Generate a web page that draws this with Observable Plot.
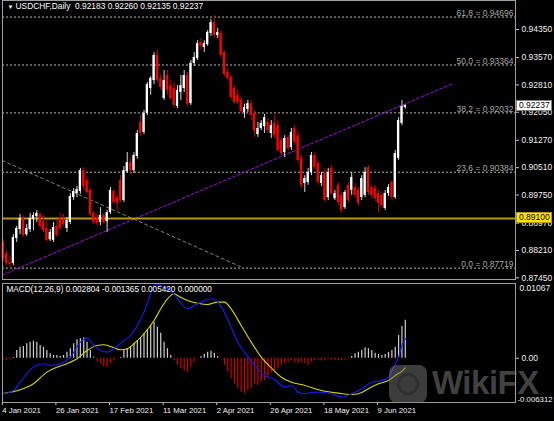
<!DOCTYPE html>
<html><head><meta charset="utf-8">
<script src="https://cdn.jsdelivr.net/npm/d3@7"></script>
<script src="https://cdn.jsdelivr.net/npm/@observablehq/plot@0.6"></script>
<style>
html,body{margin:0;padding:0;background:#000;}
#chart{position:relative;width:554px;height:421px;background:#000;overflow:hidden;font-family:'Liberation Sans',Arial,sans-serif;}
#chart svg{position:absolute;left:0;}
.box{position:absolute;font-size:8.5px;line-height:11px;height:11px;padding:0 2px;box-sizing:border-box;}
</style></head>
<body><div id="chart"></div>
<script>
// ---- data (daily bars, index 0 = 4 Jan 2021) ----
const opens = [0.8843,0.8812,0.8787,0.8785,0.8854,0.8879,0.8910,0.8865,0.8879,0.8907,
0.8915,0.8921,0.8899,0.8882,0.8851,0.8849,0.8888,0.8910,0.8907,0.8882,
0.8899,0.8968,0.8979,0.8985,0.9043,0.9015,0.8988,0.8924,0.8913,0.8899,
0.8918,0.8901,0.8926,0.8985,0.8968,0.9015,0.8960,0.9040,0.9065,0.9043,
0.9082,0.9177,0.9149,0.9202,0.9271,0.9293,0.9363,0.9299,0.9243,0.9307,
0.9279,0.9271,0.9221,0.9260,0.9271,0.9307,0.9229,0.9341,0.9354,0.9399,
0.9385,0.9393,0.9424,0.9454,0.9418,0.9424,0.9371,0.9316,0.9302,0.9271,
0.9252,0.9238,0.9204,0.9213,0.9229,0.9202,0.9143,0.9160,0.9165,0.9177,
0.9146,0.9174,0.9168,0.9127,0.9093,0.9135,0.9107,0.9160,0.9140,0.9077,
0.9007,0.9010,0.9038,0.9085,0.9063,0.9007,0.9035,0.8968,0.9049,0.8965,
0.9002,0.8974,0.8940,0.9002,0.8988,0.8996,0.8988,0.8968,0.8974,0.9051,
0.8996,0.8993,0.8979,0.8974,0.8938,0.8979,0.9010,0.8968,0.9077,0.9174,
0.92183];
const highs = [0.8851,0.8821,0.8804,0.8865,0.8888,0.8921,0.8918,0.8893,0.8924,0.8926,
0.8932,0.8926,0.8918,0.8904,0.8879,0.8899,0.8904,0.8924,0.8921,0.8913,
0.8979,0.8993,0.8999,0.9049,0.9051,0.9026,0.8993,0.8929,0.8921,0.8940,
0.8924,0.8932,0.8996,0.8990,0.8974,0.9029,0.9054,0.9093,0.9077,0.9093,
0.9154,0.9196,0.9210,0.9288,0.9304,0.9371,0.9377,0.9310,0.9321,0.9321,
0.9293,0.9288,0.9279,0.9307,0.9321,0.9316,0.9349,0.9371,0.9404,0.9410,
0.9404,0.9432,0.9463,0.9474,0.9438,0.9432,0.9377,0.9327,0.9307,0.9277,
0.9266,0.9246,0.9227,0.9238,0.9238,0.9210,0.9177,0.9182,0.9199,0.9188,
0.9182,0.9196,0.9182,0.9135,0.9140,0.9140,0.9160,0.9168,0.9154,0.9085,
0.9029,0.9049,0.9093,0.9093,0.9071,0.9038,0.9049,0.9049,0.9057,0.8988,
0.9010,0.8982,0.8988,0.9010,0.9038,0.9007,0.8996,0.9029,0.9051,0.9057,
0.9002,0.9002,0.8988,0.8982,0.8988,0.9004,0.9015,0.9099,0.9190,0.9238,
0.92260];
const lows = [0.8790,0.8779,0.8772,0.8779,0.8843,0.8865,0.8857,0.8860,0.8871,0.8876,
0.8899,0.8879,0.8871,0.8843,0.8846,0.8843,0.8857,0.8876,0.8888,0.8871,
0.8893,0.8960,0.8968,0.8977,0.8988,0.8977,0.8915,0.8893,0.8888,0.8890,
0.8893,0.8871,0.8921,0.8949,0.8932,0.8952,0.8954,0.9035,0.9032,0.9035,
0.9074,0.9138,0.9143,0.9196,0.9252,0.9282,0.9288,0.9266,0.9238,0.9252,
0.9238,0.9215,0.9215,0.9238,0.9260,0.9221,0.9224,0.9332,0.9349,0.9377,
0.9371,0.9388,0.9416,0.9410,0.9410,0.9357,0.9302,0.9293,0.9240,0.9227,
0.9227,0.9202,0.9188,0.9204,0.9182,0.9135,0.9135,0.9154,0.9146,0.9146,
0.9132,0.9132,0.9093,0.9085,0.9079,0.9099,0.9099,0.9113,0.9065,0.8993,
0.8982,0.9002,0.9029,0.9043,0.9002,0.8999,0.8954,0.8960,0.8974,0.8960,
0.8946,0.8924,0.8935,0.8952,0.8974,0.8965,0.8943,0.8960,0.8968,0.8974,
0.8965,0.8957,0.8926,0.8938,0.8932,0.8971,0.8960,0.8963,0.9071,0.9168,
0.92135];
const closes = [0.8799,0.8785,0.8782,0.8857,0.8882,0.8910,0.8863,0.8882,0.8910,0.8918,
0.8924,0.8888,0.8876,0.8849,0.8871,0.8885,0.8863,0.8882,0.8893,0.8904,
0.8971,0.8985,0.8990,0.9043,0.8999,0.8982,0.8921,0.8899,0.8896,0.8918,
0.8899,0.8926,0.8988,0.8954,0.8952,0.8960,0.9043,0.9065,0.9043,0.9085,
0.9146,0.9146,0.9202,0.9282,0.9299,0.9363,0.9293,0.9274,0.9293,0.9266,
0.9243,0.9224,0.9266,0.9279,0.9307,0.9227,0.9341,0.9357,0.9396,0.9388,
0.9396,0.9427,0.9454,0.9418,0.9427,0.9363,0.9310,0.9299,0.9246,0.9232,
0.9232,0.9207,0.9218,0.9229,0.9196,0.9154,0.9160,0.9174,0.9190,0.9154,
0.9168,0.9140,0.9099,0.9090,0.9132,0.9104,0.9149,0.9121,0.9071,0.9002,
0.9021,0.9038,0.9085,0.9051,0.9010,0.9029,0.8960,0.9038,0.8979,0.8979,
0.8954,0.8932,0.8982,0.8960,0.9024,0.8974,0.8952,0.9021,0.9038,0.8982,
0.8974,0.8965,0.8952,0.8946,0.8979,0.8996,0.8968,0.9090,0.9182,0.9221,
0.92237];

// MACD histogram (one per bar)
const histVals = [-0.00017,-0.00031,-0.00017,0.00011,0.00111,0.00158,0.00168,0.00207,0.00230,0.00244,
0.00230,0.00183,0.00158,0.00111,0.00064,0.00040,0.00040,0.00026,0.00040,0.00087,
0.00136,0.00207,0.00264,0.00278,0.00293,0.00230,0.00111,0.00016,-0.00056,-0.00078,
-0.00127,-0.00136,-0.00078,-0.00031,-0.00010,0.00011,0.00111,0.00136,0.00168,0.00207,
0.00254,0.00293,0.00350,0.00407,0.00468,0.00515,0.00444,0.00358,0.00230,0.00136,
0.00040,-0.00031,-0.00103,-0.00150,-0.00174,-0.00198,-0.00127,-0.00056,-0.00010,0.00026,
0.00054,0.00087,0.00101,0.00073,0.00026,-0.00010,-0.00103,-0.00198,-0.00293,-0.00364,
-0.00435,-0.00484,-0.00507,-0.00459,-0.00435,-0.00364,-0.00388,-0.00341,-0.00317,-0.00270,
-0.00203,-0.00174,-0.00146,-0.00103,-0.00074,-0.00060,-0.00031,-0.00067,-0.00078,-0.00056,
-0.00078,-0.00103,-0.00056,-0.00031,-0.00024,-0.00039,-0.00031,-0.00017,-0.00024,-0.00031,
-0.00031,-0.00031,-0.00024,-0.00010,0.00026,0.00064,0.00087,0.00111,0.00150,0.00136,
0.00111,0.00073,0.00054,0.00040,0.00054,0.00083,0.00111,0.00158,0.00325,0.00454,
0.00542];
// MACD main line (blue), read at these bars
const macdIdx = [0,3,5,9,12,14,17,20,23,25,27,29,31,33,36,38,40,42,44,45,46,48,50,52,55,57,59,62,64,66,68,70,72,75,78,81,84,86,88,90,92,95,98,101,104,107,110,113,115,116,118,119,120];
const macdVals = [-0.00507,-0.00459,-0.00341,-0.00127,-0.00078,-0.00103,-0.00078,0.00016,0.00230,0.00287,
0.00183,0.00111,0.00087,0.00136,0.00254,0.00325,0.00468,0.00658,0.00920,0.01039,
0.01053,0.01010,0.00968,0.00849,0.00706,0.00753,0.00801,0.00849,0.00801,0.00658,
0.00444,0.00230,0.00087,-0.00103,-0.00245,-0.00303,-0.00412,-0.00388,-0.00484,-0.00507,
-0.00484,-0.00484,-0.00507,-0.00555,-0.00507,-0.00435,-0.00341,-0.00317,-0.00270,-0.00174,
0.00016,0.00183,0.002804];
// Signal line (yellow)
const sigIdx = [0,5,9,13,16,19,22,25,28,30,32,35,37,39,42,45,47,49,51,52,55,58,61,64,66,68,71,74,77,80,83,86,90,95,100,104,106,109,112,115,117,119,120];
const sigVals = [-0.00502,-0.00450,-0.00364,-0.00198,-0.00127,-0.00078,-0.00007,0.00111,0.00183,0.00193,
0.00168,0.00121,0.00136,0.00207,0.00350,0.00539,0.00706,0.00849,0.00920,0.00896,
0.00825,0.00786,0.00768,0.00801,0.00801,0.00706,0.00468,0.00230,0.00016,-0.00138,
-0.00270,-0.00341,-0.00388,-0.00459,-0.00498,-0.00517,-0.00507,-0.00435,-0.00364,-0.00317,
-0.00245,-0.00184,-0.001365];

const fibLabels = ["61.8","50.0","38.2","23.6","0.0"];
const fibValues = [0.94696,0.93364,0.92032,0.90384,0.87719];
const supportLevel = 0.89100;
const purpleIdx = [-0.24, 134];
const purpleVals = [0.8753, 0.9284];
const grayIdx = [-0.33, 70.8];
const grayVals = [0.9071, 0.8776];

const priceTicks = [0.94350,0.93570,0.92810,0.92050,0.91270,0.90510,0.89750,0.88970,0.88210,0.87450];
const macdTop = 0.01067, macdBottom = -0.006312;
const dateTickIdx = [0,16,32,48,64,80,96,112];
const dateLabels = ["4 Jan 2021","26 Jan 2021","17 Feb 2021","11 Mar 2021","2 Apr 2021","26 Apr 2021","18 May 2021","9 Jun 2021"];

// ---- build ----
const FONT = "'Liberation Sans', Arial, sans-serif";
const xDomain = [-0.24, 152.9];
const bars = opens.map((o,i)=>({i, o, h: highs[i], l: lows[i], c: closes[i], up: closes[i] >= o}));
const fib = fibLabels.map((label,k)=>({label, v: fibValues[k]}));
const purple = purpleIdx.map((x,k)=>({x, y: purpleVals[k]}));
const gray = grayIdx.map((x,k)=>({x, y: grayVals[k]}));
const hist = histVals.map((v,i)=>({i, v}));
const macdPts = macdIdx.map((x,k)=>({x, y: macdVals[k]}));
const sigPts = sigIdx.map((x,k)=>({x, y: sigVals[k]}));
const last = bars.length - 1;
const f5 = d3.format(".5f");
const title = `USDCHF,Daily  ${f5(opens[last])} ${f5(highs[last])} ${f5(lows[last])} ${f5(closes[last])}`;
const macdLabel = `MACD(12,26,9) ${macdVals[macdVals.length-1].toFixed(6)} ${sigVals[sigVals.length-1].toFixed(6)} ${histVals[last].toFixed(6)} 0.000000`;

const baseStyle = {background:"none", color:"#fff", fontFamily: FONT, fontSize:"8px", overflow:"visible"};

const price = Plot.plot({
  width: 554, height: 283,
  marginLeft: 2, marginRight: 39, marginTop: 0, marginBottom: 4,
  style: baseStyle,
  x: {domain: xDomain, axis: null},
  y: {domain: [0.87403, 0.95156], axis: null},
  marks: [
    Plot.ruleY(fibValues, {stroke:"#b8b8b8", strokeDasharray:"2,2", strokeWidth:1}),
    Plot.text(fib, {x: xDomain[1], y: "v", text: d => `${d.label} = ${f5(d.v)}`, textAnchor:"end", lineAnchor:"bottom", dx:-2, dy:-1, fill:"#a8a8a8", fontSize:8.5}),
    Plot.line(gray, {x:"x", y:"y", stroke:"#808080", strokeDasharray:"3,3", strokeWidth:1}),
    Plot.line(purple, {x:"x", y:"y", stroke:"#9a10d8", strokeDasharray:"3,2", strokeWidth:1}),
    Plot.ruleY([supportLevel], {stroke:"#b8960c", strokeWidth:2}),
    Plot.ruleX(bars, {x:"i", y1:"l", y2:"h", stroke: d => d.up ? "#d8d8d8" : "#cc0000", strokeWidth:1}),
    Plot.rect(bars, {x1: d => d.i - 0.34, x2: d => d.i + 0.34, y1:"o", y2:"c", fill: d => d.up ? "#ffffff" : "#ff0000"}),
    Plot.axisY(priceTicks, {anchor:"right", tickSize:3, tickPadding:3, tickFormat: f5, stroke:"#c8c8c8", fill:"#f0f0f0", fontSize:8.5}),
    Plot.frame({stroke:"#a0a0a0"}),
    Plot.text(["\u25BC"], {frameAnchor:"top-left", dx:5, dy:4, fontSize:6, fill:"#fff"}),
    Plot.text([title], {frameAnchor:"top-left", dx:13, dy:3, fontSize:8.4, fill:"#fff", textAnchor:"start"})
  ]
});
price.style.top = "0px";

const macd = Plot.plot({
  width: 554, height: 138,
  marginLeft: 2, marginRight: 39, marginTop: 0, marginBottom: 19,
  style: baseStyle,
  x: {domain: xDomain, axis: null},
  y: {domain: [macdBottom, macdTop], axis: null},
  marks: [
    Plot.ruleX(hist, {x:"i", y1: 0, y2:"v", stroke: d => d.v >= 0 ? "#cfcfcf" : "#d00000", strokeWidth:1.2}),
    Plot.line(sigPts, {x:"x", y:"y", stroke:"#d6d600", strokeWidth:1.1, curve:"monotone-x"}),
    Plot.line(macdPts, {x:"x", y:"y", stroke:"#1a1aff", strokeWidth:1.1, curve:"monotone-x"}),
    Plot.axisX(dateTickIdx, {anchor:"bottom", tickSize:3, tickPadding:2, tickFormat: d => dateLabels[dateTickIdx.indexOf(d)], textAnchor:"start", dx:-1, stroke:"#c8c8c8", fill:"#f0f0f0", fontSize:7.8}),
    Plot.axisY([0], {anchor:"right", tickSize:3, tickPadding:3, tickFormat: d => d.toFixed(2), stroke:"#c8c8c8", fill:"#f0f0f0", fontSize:8.5}),
    Plot.text([macdTop], {x: xDomain[1], y: d => d, text: d => String(d), textAnchor:"start", lineAnchor:"top", dx:4, dy:1, fill:"#f0f0f0", fontSize:8.5}),
    Plot.text([macdBottom], {x: xDomain[1], y: d => d, text: d => String(d), textAnchor:"start", lineAnchor:"bottom", dx:2, dy:-1, fill:"#f0f0f0", fontSize:7.8}),
    Plot.frame({stroke:"#a0a0a0"}),
    Plot.text([macdLabel], {frameAnchor:"top-left", dx:4, dy:3, fontSize:8.2, fill:"#fff", textAnchor:"start"})
  ]
});
macd.style.top = "283px";

const root = document.getElementById("chart");
root.appendChild(price);
root.appendChild(macd);

// price tags on the right axis, positioned with the plot's own y scale
const ys = price.scale("y");
function tag(value, bg, border){
  const d = document.createElement("div");
  d.className = "box";
  d.textContent = f5(value);
  d.style.left = "516px";
  d.style.width = "36px";
  d.style.top = (ys.apply(value) - 5.5) + "px";
  d.style.background = bg;
  d.style.color = "#000";
  d.style.border = "1px solid " + border;
  d.style.lineHeight = "9px";
  root.appendChild(d);
}
tag(closes[last], "#ffffff", "#808080");
tag(supportLevel, "#ffe600", "#b8960c");

// watermark
const wm = document.createElement("div");
wm.innerHTML = `<div style="position:absolute;left:389px;top:365px;width:38px;height:38px;border-radius:8px;background:rgba(120,120,120,0.5);">
<div style="position:absolute;left:8px;top:8px;width:22px;height:22px;border-radius:50%;border:3px solid rgba(40,40,40,0.6);box-sizing:border-box;"></div></div>
<div style="position:absolute;left:432px;top:364px;font:bold 33px 'Liberation Sans',Arial,sans-serif;color:rgba(130,130,130,0.5);letter-spacing:-0.5px;">WikiFX</div>`;
root.appendChild(wm);
</script>
</body></html>
